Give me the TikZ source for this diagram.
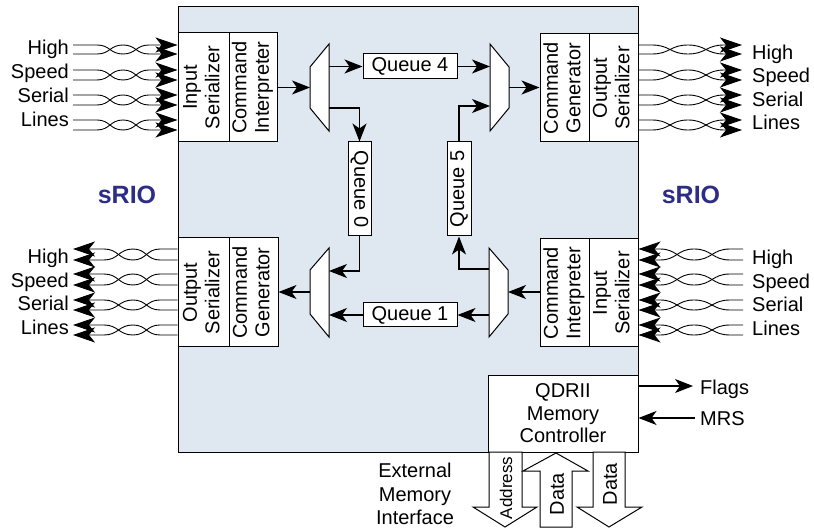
\documentclass[tikz,border=0pt]{standalone}
\usepackage{graphicx}
\usepackage{fontspec}
\setmainfont{Liberation Sans}
\usetikzlibrary{arrows.meta,calc}
\definecolor{panelfill}{RGB}{223,231,240}
\definecolor{sriocol}{RGB}{46,45,134}
\newcommand{\rotlines}[3]{\rotatebox{#1}{\begin{tabular}{@{}c@{}}#2\\#3\end{tabular}}}
\begin{document}
\begin{tikzpicture}[x=1pt,y=-1pt,
  font=\fontsize{20}{22.5}\selectfont,
  blk/.style={draw,line width=1pt,fill=white,inner sep=0pt,align=center},
  muxs/.style={draw,line width=1pt,fill=white,line join=miter},
  conn/.style={line width=1.1pt,-{Stealth[length=18pt,width=14pt,inset=5pt]}},
  wire/.style={line width=0.9pt,-{Stealth[length=22pt,width=15pt,inset=6pt]}},
  lbl/.style={inner sep=0pt},
  barrow/.style={draw,line width=1pt,fill=white,line join=miter},
  srio/.style={inner sep=0pt,text=sriocol,font=\bfseries\fontsize{25}{28}\selectfont}]
\useasboundingbox (0,0) rectangle (814,529);

% main panel
\node[draw,fill=panelfill,line width=1pt,minimum width=460pt,minimum height=445pt,inner sep=0pt] (panel) at (408,229.5) {};

% serializer / command blocks
\node[blk,minimum width=51pt,minimum height=109pt] (ISL) at (203.5,87.5) {\rotlines{90}{Input}{Serializer}};
\node[blk,minimum width=48pt,minimum height=109pt] (CIL) at (253,87.5) {\rotlines{90}{Command}{Interpreter}};
\node[blk,minimum width=49pt,minimum height=108pt] (CGR) at (564.5,88) {\rotlines{90}{Command}{Generator}};
\node[blk,minimum width=49pt,minimum height=108pt] (OSR) at (613.5,88) {\rotlines{90}{Output}{Serializer}};
\node[blk,minimum width=51pt,minimum height=109pt] (OSL) at (203.5,292.5) {\rotlines{90}{Output}{Serializer}};
\node[blk,minimum width=49pt,minimum height=109pt] (CGL) at (253.5,292.5) {\rotlines{90}{Command}{Generator}};
\node[blk,minimum width=49pt,minimum height=108pt] (CIR) at (564.5,293) {\rotlines{90}{Command}{Interpreter}};
\node[blk,minimum width=49pt,minimum height=108pt] (ISR) at (613.5,293) {\rotlines{90}{Input}{Serializer}};

% queues
\node[blk,minimum width=94pt,minimum height=25pt] (Q4) at (410,66.5) {Queue 4};
\node[blk,minimum width=94pt,minimum height=24pt] (Q1) at (410,315) {Queue 1};
\node[blk,minimum width=23pt,minimum height=94pt] (Q0) at (359.5,189) {\rotatebox{-90}{Queue 0}};
\node[blk,minimum width=24pt,minimum height=94pt] (Q5) at (459,189) {\rotatebox{90}{Queue 5}};

% multiplexers
\draw[muxs] (310,67) -- (329,44) -- (329,131) -- (310,108) -- cycle;
\coordinate (mTLi) at (310,87.5);
\coordinate (mTLa) at (329,66.5);
\coordinate (mTLb) at (329,108);
\draw[muxs] (490,44) -- (509,67) -- (509,108) -- (490,131) -- cycle;
\coordinate (mTRa) at (490,66.5);
\coordinate (mTRb) at (490,106);
\coordinate (mTRo) at (509,87.5);
\draw[muxs] (310,270) -- (329,248) -- (329,337) -- (310,314) -- cycle;
\coordinate (mBLo) at (310,292);
\coordinate (mBLa) at (329,271);
\coordinate (mBLb) at (329,315);
\draw[muxs] (489,248) -- (508,270) -- (508,314) -- (489,337) -- cycle;
\coordinate (mBRi) at (508,292);
\coordinate (mBRa) at (489,269);
\coordinate (mBRb) at (489,315);

% internal connectors
\draw[conn] (CIL.east |- mTLi) -- (mTLi);
\draw[conn] (mTLa) -- (Q4.west);
\draw[conn] (Q4.east) -- (mTRa);
\draw[conn] (mTRo) -- (CGR.west |- mTRo);
\draw[conn] (mTLb) -| (Q0.north);
\draw[conn] (Q5.north) |- (mTRb);
\draw[conn] (Q0.south) |- (mBLa);
\draw[conn] (mBRa) -| (Q5.south);
\draw[conn] (Q1.west) -- (mBLb);
\draw[conn] (mBRb) -- (Q1.east);
\draw[conn] (CIR.west |- mBRi) -- (mBRi);
\draw[conn] (mBLo) -- (CGL.east |- mBLo);

% sRIO labels
\node[srio] (srioL) at (127,195) {sRIO};
\node[srio] (srioR) at (691,195) {sRIO};

% top-left serial lines (in)
\foreach \n/\ya/\yb/\bl in {High/45/54/55,Speed/70/80/79,Serial/95/105/103,Lines/120/130/127}{
  \node[lbl,anchor=base east] (tl\n) at (69,\bl) {\n};
  \coordinate (tla\n) at (73,\ya);
  \coordinate (tlb\n) at (73,\yb);
  \draw[wire] (tla\n) -- (97,\ya) .. controls (110,\ya) and (110,\yb) .. (123,\yb) .. controls (136,\yb) and (136,\ya) .. (149,\ya) -- (ISL.west |- tla\n);
  \draw[wire] (tlb\n) -- (97,\yb) .. controls (110,\yb) and (110,\ya) .. (123,\ya) .. controls (136,\ya) and (136,\yb) .. (149,\yb) -- (ISL.west |- tlb\n);
}
% top-right serial lines (out)
\foreach \n/\ya/\yb/\bl in {High/45/54/59.5,Speed/70/80/83,Serial/95/105/106.5,Lines/120/130/130}{
  \node[lbl,anchor=base west] (tr\n) at (752,\bl) {\n};
  \coordinate (tra\n) at (742,\ya);
  \coordinate (trb\n) at (742,\yb);
  \draw[wire] (OSR.east |- tra\n) -- (652,\ya) .. controls (670,\ya) and (670,\yb) .. (688,\yb) .. controls (706,\yb) and (706,\ya) .. (724,\ya) -- (tra\n);
  \draw[wire] (OSR.east |- trb\n) -- (652,\yb) .. controls (670,\yb) and (670,\ya) .. (688,\ya) .. controls (706,\ya) and (706,\yb) .. (724,\yb) -- (trb\n);
}
% bottom-left serial lines (out)
\foreach \n/\ya/\yb/\bl in {High/249/260/263.5,Speed/274/285/287.5,Serial/300/310/311,Lines/325/335/334.5}{
  \node[lbl,anchor=base east] (bl\n) at (69,\bl) {\n};
  \coordinate (bla\n) at (73,\ya);
  \coordinate (blb\n) at (73,\yb);
  \draw[wire] (OSL.west |- bla\n) -- (160,\ya) .. controls (146.5,\ya) and (146.5,\yb) .. (133,\yb) .. controls (118.5,\yb) and (118.5,\ya) .. (104,\ya) -- (bla\n);
  \draw[wire] (OSL.west |- blb\n) -- (160,\yb) .. controls (146.5,\yb) and (146.5,\ya) .. (133,\ya) .. controls (118.5,\ya) and (118.5,\yb) .. (104,\yb) -- (blb\n);
}
% bottom-right serial lines (in)
\foreach \n/\ya/\yb/\bl in {High/249/260/264.5,Speed/274/285/288.5,Serial/300/310/312,Lines/325/335/335.5}{
  \node[lbl,anchor=base west] (br\n) at (752,\bl) {\n};
  \coordinate (bra\n) at (743,\ya);
  \coordinate (brb\n) at (743,\yb);
  \draw[wire] (bra\n) -- (730,\ya) .. controls (712,\ya) and (712,\yb) .. (694,\yb) .. controls (677,\yb) and (677,\ya) .. (660,\ya) -- (ISR.east |- bra\n);
  \draw[wire] (brb\n) -- (730,\yb) .. controls (712,\yb) and (712,\ya) .. (694,\ya) .. controls (677,\ya) and (677,\yb) .. (660,\yb) -- (ISR.east |- brb\n);
}

% memory controller
\node[blk,minimum width=150pt,minimum height=77pt] (QDR) at (563,413.5) {QDRII\\Memory\\Controller};
\node[lbl,anchor=base west] (flags) at (700,394) {Flags};
\node[lbl,anchor=base west] (mrs) at (700,425) {MRS};
\coordinate (flagsEnd) at (693,386);
\coordinate (mrsStart) at (695,418);
\draw[conn] (QDR.east |- flagsEnd) -- (flagsEnd);
\draw[conn] (mrsStart) -- (QDR.east |- mrsStart);

% external memory interface block arrows
\draw[barrow] (489,452) -- (489,507) -- (473,507) -- (505,527) -- (537,507) -- (522,507) -- (522,452) -- cycle;
\draw[barrow] (540,527) -- (540,471) -- (523,471) -- (556,453) -- (588,471) -- (572,471) -- (572,527) -- cycle;
\draw[barrow] (593,452) -- (593,507) -- (577,507) -- (609,527) -- (642,507) -- (625,507) -- (625,452) -- cycle;
\node[lbl,rotate=90,font=\fontsize{17}{20}\selectfont] (addr) at (506,488) {Address};
\node[lbl,rotate=90] (dataUp) at (557,494) {Data};
\node[lbl,rotate=90] (dataDn) at (610,484) {Data};
\node[lbl,align=center,font=\fontsize{20}{23.5}\selectfont] (ext) at (415,494) {External\\Memory\\Interface};
\end{tikzpicture}
\end{document}
